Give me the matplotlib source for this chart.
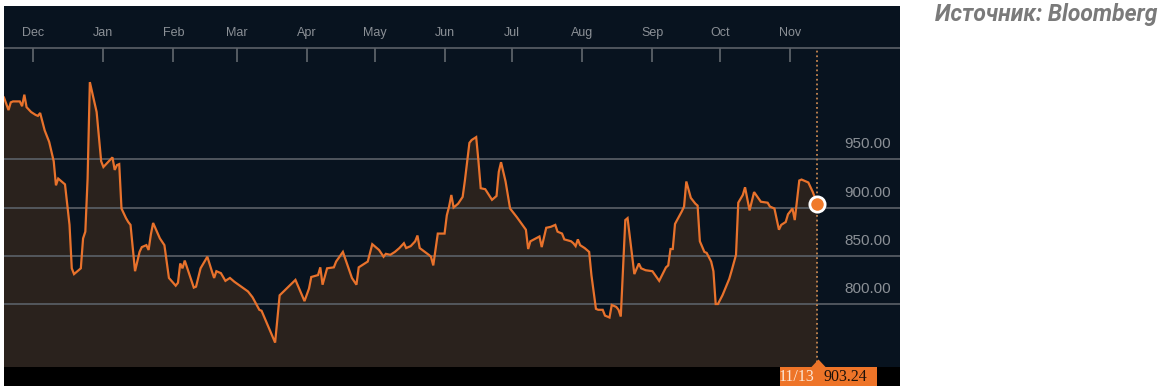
import matplotlib
matplotlib.use("Agg")
import matplotlib.pyplot as plt
from matplotlib.patches import Rectangle, Polygon
import pandas as pd

# price series
dates = [
    "2014-11-18", "2014-11-20", "2014-11-21", "2014-11-22", "2014-11-25", "2014-11-26",
    "2014-11-27", "2014-11-28", "2014-11-30", "2014-12-02", "2014-12-03", "2014-12-04",
    "2014-12-05", "2014-12-06", "2014-12-08", "2014-12-10", "2014-12-11", "2014-12-12",
    "2014-12-15", "2014-12-17", "2014-12-18", "2014-12-19", "2014-12-22", "2014-12-23",
    "2014-12-24", "2014-12-25", "2014-12-26", "2014-12-29", "2014-12-31", "2015-01-01",
    "2015-01-05", "2015-01-06", "2015-01-07", "2015-01-08", "2015-01-09", "2015-01-11",
    "2015-01-12", "2015-01-13", "2015-01-15", "2015-01-17", "2015-01-18", "2015-01-20",
    "2015-01-21", "2015-01-22", "2015-01-23", "2015-01-26", "2015-01-28", "2015-01-30",
    "2015-02-02", "2015-02-03", "2015-02-04", "2015-02-05", "2015-02-06", "2015-02-08",
    "2015-02-10", "2015-02-11", "2015-02-13", "2015-02-16", "2015-02-18", "2015-02-19",
    "2015-02-20", "2015-02-22", "2015-02-24", "2015-02-26", "2015-02-28", "2015-03-03",
    "2015-03-06", "2015-03-08", "2015-03-11", "2015-03-12", "2015-03-14", "2015-03-18",
    "2015-03-20", "2015-03-27", "2015-03-31", "2015-04-02", "2015-04-03", "2015-04-06",
    "2015-04-07", "2015-04-08", "2015-04-10", "2015-04-13", "2015-04-14", "2015-04-17",
    "2015-04-21", "2015-04-23", "2015-04-24", "2015-04-28", "2015-04-30", "2015-05-03",
    "2015-05-05", "2015-05-06", "2015-05-08", "2015-05-10", "2015-05-12", "2015-05-14",
    "2015-05-15", "2015-05-17", "2015-05-19", "2015-05-20", "2015-05-21", "2015-05-25",
    "2015-05-26", "2015-05-27", "2015-05-29", "2015-06-01", "2015-06-02", "2015-06-03",
    "2015-06-04", "2015-06-05", "2015-06-07", "2015-06-09", "2015-06-10", "2015-06-12",
    "2015-06-13", "2015-06-15", "2015-06-16", "2015-06-17", "2015-06-19", "2015-06-22",
    "2015-06-24", "2015-06-25", "2015-06-26", "2015-06-28", "2015-06-30", "2015-07-03",
    "2015-07-07", "2015-07-08", "2015-07-09", "2015-07-13", "2015-07-14", "2015-07-16",
    "2015-07-18", "2015-07-20", "2015-07-21", "2015-07-23", "2015-07-24", "2015-07-27",
    "2015-07-28", "2015-07-29", "2015-07-30", "2015-07-31", "2015-08-02", "2015-08-04",
    "2015-08-05", "2015-08-07", "2015-08-08", "2015-08-10", "2015-08-11", "2015-08-13",
    "2015-08-14", "2015-08-16", "2015-08-17", "2015-08-18", "2015-08-20", "2015-08-21",
    "2015-08-24", "2015-08-26", "2015-08-27", "2015-08-29", "2015-09-01", "2015-09-04",
    "2015-09-07", "2015-09-08", "2015-09-09", "2015-09-10", "2015-09-11", "2015-09-14",
    "2015-09-15", "2015-09-16", "2015-09-18", "2015-09-20", "2015-09-21", "2015-09-22",
    "2015-09-24", "2015-09-25", "2015-09-27", "2015-09-28", "2015-09-29", "2015-09-30",
    "2015-10-02", "2015-10-05", "2015-10-06", "2015-10-08", "2015-10-09", "2015-10-11",
    "2015-10-12", "2015-10-14", "2015-10-16", "2015-10-19", "2015-10-22", "2015-10-23",
    "2015-10-25", "2015-10-27", "2015-10-28", "2015-10-30", "2015-10-31", "2015-11-02",
    "2015-11-03", "2015-11-05", "2015-11-06", "2015-11-09", "2015-11-11", "2015-11-13",
]
values = [
    1014, 1001, 1009, 1010, 1010, 1005,
    1017, 1004, 999, 996, 995, 998,
    989, 980, 968, 948, 923, 930,
    924, 882, 837, 831, 837, 868,
    875, 930, 1030, 999, 948, 942,
    952, 939, 944, 945, 899, 889,
    885, 882, 834, 854, 859, 861,
    856, 872, 884, 868, 861, 827,
    819, 822, 842, 837, 845, 831,
    817, 818, 837, 849, 834, 827,
    834, 832, 824, 827, 823, 818,
    813, 807, 794, 793, 782, 760,
    809, 825, 803, 816, 828, 830,
    838, 820, 837, 838, 844, 854,
    827, 820, 838, 844, 862, 856,
    849, 852, 851, 854, 858, 863,
    858, 860, 865, 871, 858, 851,
    849, 840, 873, 873, 892, 901,
    913, 900, 904, 911, 928, 967,
    970, 973, 948, 920, 919, 908,
    912, 937, 947, 927, 899, 890,
    877, 857, 865, 870, 859, 879,
    880, 882, 875, 873, 867, 865,
    863, 860, 867, 861, 858, 854,
    830, 795, 794, 794, 788, 786,
    799, 797, 794, 787, 887, 889,
    831, 842, 837, 835, 834, 824,
    838, 840, 857, 857, 883, 896,
    901, 927, 910, 904, 902, 865,
    854, 853, 844, 834, 800, 800,
    809, 826, 834, 851, 905, 913,
    921, 897, 916, 906, 905, 901,
    899, 877, 882, 885, 893, 899,
    887, 928, 929, 926, 916, 903.24,
]
grid_levels = [800, 850, 900, 950]
month_starts = ["2014-12-01", "2015-01-01", "2015-02-01", "2015-03-01", "2015-04-01", "2015-05-01",
                "2015-06-01", "2015-07-01", "2015-08-01", "2015-09-01", "2015-10-01", "2015-11-01"]
month_names = ["Dec", "Jan", "Feb", "Mar", "Apr", "May", "Jun", "Jul", "Aug", "Sep", "Oct", "Nov"]
last_label = "11/13"
source = "Источник: Bloomberg"

x = pd.to_datetime(dates)
months = pd.to_datetime(month_starts)

W, H = 1173, 392
panel = "#08131f"
fill_c = "#2a221d"
line_c = "#e8722c"
grid_c = "#5b6168"
text_c = "#8b9096"

fig = plt.figure(figsize=(W / 100, H / 100), dpi=100)
fig.patch.set_facecolor("white")

ax = fig.add_axes([4 / W, 25 / H, 896 / W, 361 / H])
ax.set_facecolor(panel)
for s in ax.spines.values():
    s.set_visible(False)
ax.set_xticks([])
ax.set_yticks([])
ax.set_xlim(pd.Timestamp("2014-11-18"), pd.Timestamp("2015-12-19 14:00"))
ax.set_ylim(734.7, 1108.9)

ax.fill_between(x, values, 0, color=fill_c, lw=0, zorder=1)
for g in grid_levels:
    ax.axhline(g, color=grid_c, lw=1.2, zorder=2)
    ax.annotate(f"{g:.2f}", xy=(0.99, g), xycoords=ax.get_yaxis_transform(),
                xytext=(0, 15), textcoords="offset pixels", ha="right", va="center",
                fontsize=11, color=text_c, family="Liberation Sans", zorder=5)
ax.plot(x, values, color=line_c, lw=1.6, zorder=3, solid_joinstyle="miter")

# header with month ticks
hy = 0.8837
ax.plot([0, 1], [hy, hy], transform=ax.transAxes, color=grid_c, lw=1.2, zorder=2)
ax.vlines(months, 0.845, hy, transform=ax.get_xaxis_transform(), color=grid_c, lw=1.3)
for m, name in zip(months, month_names):
    ax.text(m, 0.925, name, transform=ax.get_xaxis_transform(), ha="center", va="center",
            fontsize=9, color=text_c, family="Liberation Sans")

# marker for the last value
ax.axvline(x[-1], ymin=0, ymax=hy, color="#c58650", lw=1.3, ls=(0, (1, 1.6)), zorder=4)
ax.plot(x[-1], values[-1], "o", ms=11, mfc="#f07a2a", mec="white", mew=2, zorder=6)

# bottom bar
def fx(px):
    return px / W

def fy(py):
    return 1 - py / H

fig.add_artist(Rectangle((fx(4), fy(386)), 896 / W, 19 / H, transform=fig.transFigure,
                         color="black", lw=0))
fig.add_artist(Rectangle((fx(780), fy(386)), 97 / W, 19 / H, transform=fig.transFigure,
                         color="#ee7428", lw=0))
fig.add_artist(Polygon([(fx(811), fy(367.5)), (fx(826), fy(367.5)), (fx(818.5), fy(359.5))],
                       closed=True, transform=fig.transFigure, color="#ee7428", lw=0))
fig.text(fx(797), fy(377), last_label, ha="center", va="center", fontsize=11.5,
         color="#fbe6d6", family="Liberation Serif")
fig.text(fx(845), fy(377), f"{values[-1]:.2f}", ha="center", va="center", fontsize=11.5,
         color="#1e120a", family="Liberation Serif")

fig.text(fx(1157), fy(15), source, ha="right", va="center", fontsize=16.5,
         color="#7a7a7a", family="Roboto", style="italic", weight="bold")

fig.savefig("out.png", dpi=100, facecolor="white")
